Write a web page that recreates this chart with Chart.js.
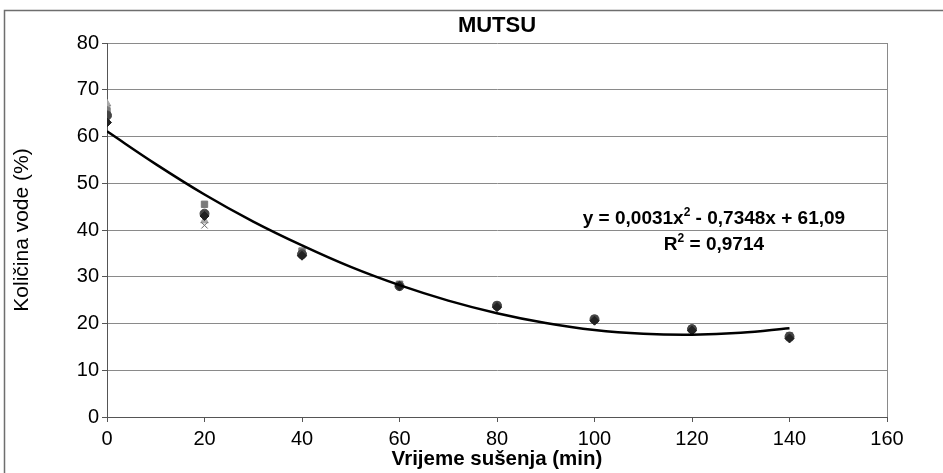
<!DOCTYPE html>
<html>
<head>
<meta charset="utf-8">
<script src="https://cdn.jsdelivr.net/npm/chart.js@4.4.1/dist/chart.umd.min.js"></script>
<style>
  html, body { margin: 0; padding: 0; background: #fff; }
  #wrap { width: 943px; height: 473px; position: relative; }
</style>
</head>
<body>
<div id="wrap"><canvas id="graf"></canvas></div>
<script>
// Vrijeme sušenja (min)
const vrijeme = [0, 20, 40, 60, 80, 100, 120, 140];

// Količina vode (%) - ponavljanja
const uzorak1 = [63.0, 43.0, 34.5, 28.0, 23.5, 20.6, 18.5, 16.8];
const uzorak2 = [65.5, 45.5, 35.5, 28.4, 23.9, 21.0, 18.9, 17.4];
const uzorak3 = [67.0, 42.0, 35.0, 28.2, 23.7, 20.8, 18.7, 17.0];
const uzorak4 = [66.0, 41.0, 35.0, 28.3, 23.6, 20.7, 18.6, 16.9];
const uzorak5 = [64.5, 43.5, 34.8, 28.0, 23.8, 20.9, 18.8, 17.2];

// Trend (polinom 2. reda), očitano s krivulje
const trendX = [0, 10, 20, 30, 40, 50, 60, 70, 80, 90, 100, 110, 120, 130, 140];
const trendY = [61.1, 54.1, 47.6, 41.8, 36.7, 32.1, 28.2, 24.9, 22.2, 20.1, 18.6, 17.8, 17.6, 18.0, 19.0];

const xTicks = [0, 20, 40, 60, 80, 100, 120, 140, 160];
const yTicks = [0, 10, 20, 30, 40, 50, 60, 70, 80];

const jednadzba = ['y = 0,0031x', '2', ' - 0,7348x + 61,09'];
const rKvadrat = ['R', '2', ' = 0,9714'];

const NARROW = '"Liberation Sans Narrow", "Liberation Sans", Arial, sans-serif';
const SANS = '"Liberation Sans", Arial, sans-serif';

const tocke = (vals) => vrijeme.map((x, i) => ({ x: x, y: vals[i] }));

// prvi skup se crta zadnji (na vrhu)
const serije = [
  { data: uzorak1, style: 'rectRot', color: '#222222' },
  { data: uzorak5, style: 'circle', color: '#444444' },
  { data: uzorak2, style: 'rect', color: '#7a7a7a' },
  { data: uzorak4, style: 'crossRot', color: '#666666' },
  { data: uzorak3, style: 'triangle', color: '#a8a8a8' }
].map(s => ({
  type: 'scatter',
  data: tocke(s.data),
  pointStyle: s.style,
  pointRadius: 4.5,
  pointBackgroundColor: s.color,
  pointBorderColor: s.color,
  pointBorderWidth: 1,
  showLine: false
}));

// Okvir, naslov i jednadžba trenda
const dodaci = {
  id: 'dodaci',
  beforeDraw(chart) {
    const ctx = chart.ctx;
    ctx.save();
    ctx.fillStyle = '#fff';
    ctx.fillRect(0, 0, chart.width, chart.height);
    ctx.strokeStyle = '#6e6e6e';
    ctx.lineWidth = 1.5;
    ctx.strokeRect(4.5, 10.5, chart.width + 10, chart.height + 10);
    ctx.restore();
  },
  afterDraw(chart) {
    const ctx = chart.ctx;
    const a = chart.chartArea;
    ctx.save();
    ctx.strokeStyle = '#8a8a8a';
    ctx.lineWidth = 1;
    ctx.beginPath();
    ctx.moveTo(Math.round(a.right) + 0.5, a.top);
    ctx.lineTo(Math.round(a.right) + 0.5, a.bottom);
    ctx.stroke();

    ctx.fillStyle = '#000';
    ctx.font = 'bold 22px ' + NARROW;
    ctx.textAlign = 'center';
    ctx.textBaseline = 'alphabetic';
    ctx.fillText('MUTSU', (a.left + a.right) / 2, 32);

    const xs = chart.scales.x, ys = chart.scales.y;
    const crtaj = (dijelovi, cx, by) => {
      const big = 'bold 19px ' + SANS;
      const small = 'bold 12px ' + SANS;
      ctx.textAlign = 'left';
      ctx.font = big; const w0 = ctx.measureText(dijelovi[0]).width;
      ctx.font = small; const w1 = ctx.measureText(dijelovi[1]).width;
      ctx.font = big; const w2 = ctx.measureText(dijelovi[2]).width;
      let x = cx - (w0 + w1 + w2) / 2;
      ctx.font = big; ctx.fillText(dijelovi[0], x, by); x += w0;
      ctx.font = small; ctx.fillText(dijelovi[1], x, by - 8); x += w1;
      ctx.font = big; ctx.fillText(dijelovi[2], x, by);
    };
    crtaj(jednadzba, xs.getPixelForValue(124.5), ys.getPixelForValue(41.2));
    crtaj(rKvadrat, xs.getPixelForValue(124.5), ys.getPixelForValue(35.7));
    ctx.restore();
  }
};

new Chart(document.getElementById('graf'), {
  type: 'scatter',
  data: {
    datasets: serije.concat([{
      type: 'line',
      data: trendX.map((x, i) => ({ x: x, y: trendY[i] })),
      borderColor: '#000',
      borderWidth: 2.5,
      pointRadius: 0,
      tension: 0.4,
      fill: false,
      order: -1
    }])
  },
  options: {
    responsive: true,
    maintainAspectRatio: false,
    animation: false,
    events: [],
    layout: { padding: { top: 43, left: 0, right: 56, bottom: 0 } },
    plugins: {
      legend: { display: false },
      tooltip: { enabled: false }
    },
    scales: {
      x: {
        type: 'linear',
        min: 0, max: 160,
        afterBuildTicks: s => { s.ticks = xTicks.map(v => ({ value: v })); },
        afterFit: s => { s.height = 56; },
        ticks: { color: '#000', font: { family: NARROW, size: 20 }, padding: 5, maxRotation: 0 },
        grid: { display: true, drawOnChartArea: false, tickLength: 5, color: '#555' },
        border: { color: '#555', width: 1 },
        title: {
          display: true, text: 'Vrijeme sušenja (min)', color: '#000',
          font: { family: NARROW, size: 20.5, weight: 'bold' },
          padding: { top: 0, bottom: 1 }
        }
      },
      y: {
        type: 'linear',
        min: 0, max: 80,
        afterBuildTicks: s => { s.ticks = yTicks.map(v => ({ value: v })); },
        afterFit: s => { s.width = 107; },
        ticks: { color: '#000', font: { family: NARROW, size: 20 }, padding: 3 },
        grid: { color: '#8a8a8a', tickLength: 5, tickColor: '#555' },
        border: { color: '#555', width: 1 },
        title: {
          display: true, text: 'Količina vode (%)', color: '#000',
          font: { family: SANS, size: 21 },
          padding: { top: 10, bottom: 0 }
        }
      }
    }
  },
  plugins: [dodaci]
});
</script>
</body>
</html>
